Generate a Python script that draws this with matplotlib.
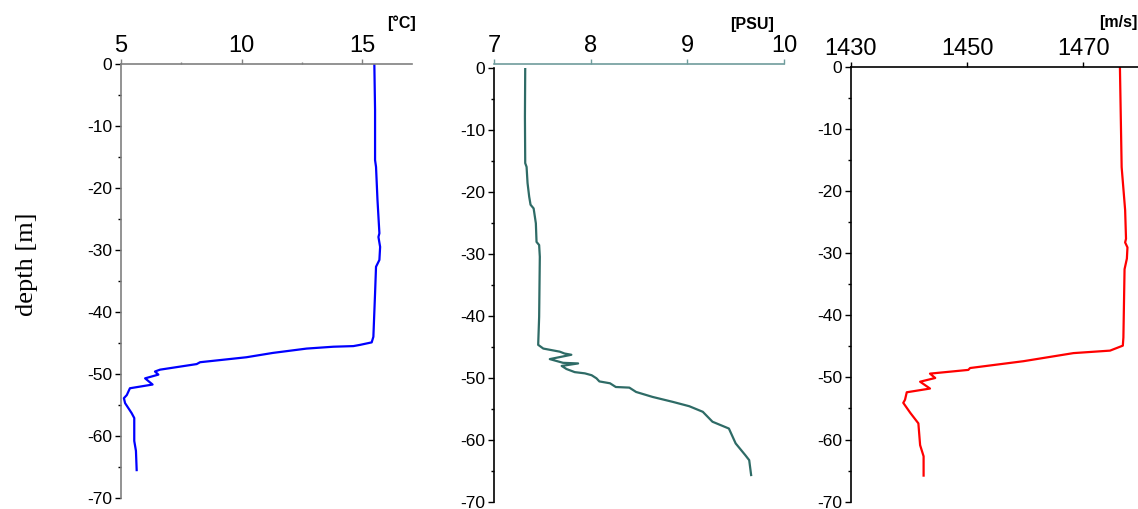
import matplotlib
matplotlib.use("Agg")
import matplotlib.pyplot as plt
from matplotlib.ticker import MultipleLocator, FixedLocator

plt.rcParams["font.family"] = ["Liberation Sans", "DejaVu Sans"]
plt.rcParams["axes.unicode_minus"] = False

# temperature profile [°C]
temp_depth = [0, -7.4, -15.5, -16.6, -21.9, -27.3, -27.9, -29.5, -31.6, -32.7,
              -37.0, -44.0, -44.9, -45.3, -45.5, -45.6, -45.9, -46.6, -47.3,
              -48.1, -48.4, -49.3, -49.6, -50.1, -50.7, -51.7, -52.3, -53.4,
              -53.9, -54.7, -56.3, -57.1, -60.8, -62.4, -65.5]
temp = [15.51, 15.54, 15.54, 15.58, 15.64, 15.72, 15.68, 15.75, 15.72, 15.58,
        15.54, 15.47, 15.40, 14.92, 14.64, 13.81, 12.70, 11.30, 10.20,
        8.28, 8.14, 6.62, 6.41, 6.55, 6.00, 6.31, 5.37, 5.24,
        5.12, 5.17, 5.44, 5.55, 5.55, 5.62, 5.65]

# salinity profile [PSU]
sal_depth = [0, -7.9, -15.4, -16.0, -18.6, -20.8, -22.1, -22.7, -25.1, -28.1,
             -28.6, -30.5, -40.2, -44.7, -45.3, -45.8, -46.1, -46.3, -47.0,
             -47.6, -47.7, -48.1, -48.6, -49.1, -49.3, -49.6, -50.1, -50.6,
             -50.9, -51.5, -51.6, -52.3, -53.1, -53.9, -54.6, -55.5, -57.1,
             -58.2, -60.6, -62.5, -63.3, -65.7]
sal = [7.323, 7.32, 7.323, 7.337, 7.347, 7.364, 7.378, 7.41, 7.433, 7.44,
       7.467, 7.474, 7.467, 7.457, 7.51, 7.68, 7.73, 7.80, 7.577,
       7.714, 7.87, 7.70, 7.75, 7.835, 7.94, 8.01, 8.06, 8.09,
       8.20, 8.26, 8.40, 8.47, 8.64, 8.85, 9.02, 9.16, 9.26,
       9.43, 9.50, 9.60, 9.64, 9.66]

# sound speed profile [m/s]
spd_depth = [0, -16.2, -23.1, -27.7, -28.3, -29.1, -30.9, -32.6, -43.6, -44.9,
             -45.7, -46.1, -47.4, -48.5, -48.8, -49.4, -50.1, -50.7, -51.8,
             -52.4, -53.6, -54.1, -55.7, -57.4, -60.9, -62.7, -65.8]
spd = [1476.3, 1476.6, 1477.2, 1477.35, 1477.2, 1477.6, 1477.5, 1477.1, 1476.9, 1476.8,
       1474.6, 1468.3, 1459.7, 1450.5, 1450.2, 1443.6, 1444.5, 1441.9, 1443.6,
       1439.6, 1439.3, 1439.0, 1440.2, 1441.6, 1441.9, 1442.5, 1442.5]

W, H = 1138, 509
fig = plt.figure(figsize=(W / 100, H / 100), dpi=100)


def px_axes(left, top, right, bottom):
    return fig.add_axes([left / W, 1 - bottom / H, (right - left) / W, (bottom - top) / H])


def style(ax, xlim, xticks, xminor=None, top_color="black", left_color="black"):
    ax.set_ylim(-70, 0)
    ax.set_xlim(*xlim)
    ax.xaxis.tick_top()
    ax.spines["right"].set_visible(False)
    ax.spines["bottom"].set_visible(False)
    ax.spines["top"].set_color(top_color)
    ax.spines["left"].set_color(left_color)
    ax.spines["top"].set_linewidth(1.2)
    ax.spines["left"].set_linewidth(1.2)
    ax.xaxis.set_major_locator(FixedLocator(xticks))
    if xminor is not None:
        ax.xaxis.set_minor_locator(FixedLocator(xminor))
    ax.yaxis.set_major_locator(MultipleLocator(10))
    ax.yaxis.set_minor_locator(MultipleLocator(5))
    ax.tick_params(axis="x", which="major", direction="out", length=3.4, width=1,
                   labelsize=17, pad=1.5, colors=top_color, labelcolor="black")
    ax.tick_params(axis="x", which="minor", direction="out", length=1.8, width=1,
                   colors=top_color)
    ax.tick_params(axis="y", which="major", direction="out", length=4, width=1,
                   labelsize=12.5, pad=2.5)
    ax.tick_params(axis="y", which="minor", direction="out", length=2.5, width=1)
    ax.patch.set_alpha(0)


# temperature
ax1 = px_axes(121, 64, 411.7, 498)
ax1.plot(temp, temp_depth, color="#0000ff", lw=1.6)
style(ax1, (5, 17.06), [5, 10, 15], [7.5, 12.5], top_color="#808080", left_color="#808080")
ax1.set_ylabel("depth [m]", family=["Liberation Serif", "DejaVu Serif"], fontsize=19)
ax1.yaxis.set_label_coords(-0.287, 0.539)
fig.text(402 / W, 1 - 23 / H, "[°C]", ha="center", va="center", fontsize=11.5, fontweight="bold")

# salinity
ax2 = px_axes(494, 67.7, 784, 501.7)
ax2.plot(sal, sal_depth, color="#2e6b66", lw=1.6)
style(ax2, (7, 10), [7, 8, 9, 10], top_color="#6f9c9c")
ax2.spines["top"].set_position(("outward", 3))
fig.text(752 / W, 1 - 24 / H, "[PSU]", ha="center", va="center", fontsize=11.5, fontweight="bold")

# sound speed
ax3 = px_axes(851, 66.5, 1141.4, 501.7)
ax3.plot(spd, spd_depth, color="#ff0000", lw=1.6)
style(ax3, (1430, 1480), [1430, 1450, 1470])
fig.text(1118 / W, 1 - 23 / H, "[m/s]", ha="center", va="center", fontsize=11.5, fontweight="bold")

fig.savefig("out.png", dpi=100)
